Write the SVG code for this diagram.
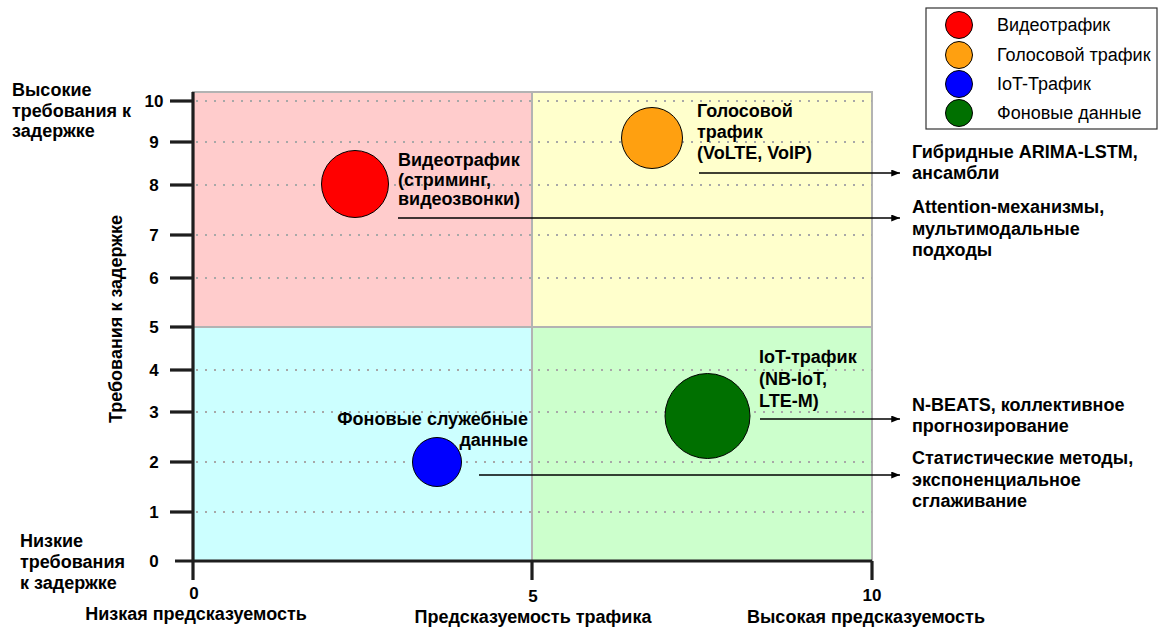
<svg xmlns="http://www.w3.org/2000/svg" width="1159" height="629" viewBox="0 0 1159 629">
<defs>
<style>
text{font-family:"Liberation Sans",Arial,sans-serif;fill:#000}
.b{font-weight:bold;font-size:18px}
.r{font-size:18px}
.tk{font-weight:bold;font-size:17px;text-anchor:middle}
.tt{font-weight:bold;font-size:18px;text-anchor:middle}
.grid{stroke:#A8A8A8;stroke-width:2;stroke-dasharray:2 7;fill:none}
.quad{stroke:#B3B3B3;stroke-width:2}
.axis{stroke:#1E1E1E;stroke-width:3.2;fill:none}
.conn{stroke:#000;stroke-width:1.5;fill:none;marker-end:url(#arr)}
.bub{stroke:#000;stroke-width:1}
</style>
<marker id="arr" viewBox="0 0 10 8" refX="10" refY="4" markerWidth="9" markerHeight="7" markerUnits="userSpaceOnUse" orient="auto">
<path d="M0,0 L10,4 L0,8 Z" fill="#000"/>
</marker>
</defs>
<rect width="1159" height="629" fill="#fff"/>

<g id="quadrants">
<rect class="quad" x="193" y="92" width="339" height="235" fill="#FFCCCC"/>
<rect class="quad" x="532" y="92" width="340" height="235" fill="#FFFFCC"/>
<rect class="quad" x="193" y="327" width="339" height="234" fill="#CCFFFF"/>
<rect class="quad" x="532" y="327" width="340" height="234" fill="#CCFFCC"/>
</g>

<g id="grid">
<line class="grid" x1="196" y1="101" x2="872" y2="101"/>
<line class="grid" x1="196" y1="142" x2="872" y2="142"/>
<line class="grid" x1="196" y1="185" x2="872" y2="185"/>
<line class="grid" x1="196" y1="235" x2="872" y2="235"/>
<line class="grid" x1="196" y1="278" x2="872" y2="278"/>
<line class="grid" x1="196" y1="370" x2="872" y2="370"/>
<line class="grid" x1="196" y1="412" x2="872" y2="412"/>
<line class="grid" x1="196" y1="462" x2="872" y2="462"/>
<line class="grid" x1="196" y1="512" x2="872" y2="512"/>
</g>

<g id="axes">
<line class="axis" x1="193" y1="92" x2="193" y2="580"/>
<line class="axis" x1="175" y1="561" x2="872" y2="561"/>
<line class="axis" x1="532" y1="561" x2="532" y2="580"/>
<line class="axis" x1="872" y1="561" x2="872" y2="580"/>
<line class="axis" x1="170" y1="101" x2="193" y2="101"/>
<line class="axis" x1="170" y1="142" x2="193" y2="142"/>
<line class="axis" x1="170" y1="185" x2="193" y2="185"/>
<line class="axis" x1="170" y1="235" x2="193" y2="235"/>
<line class="axis" x1="170" y1="278" x2="193" y2="278"/>
<line class="axis" x1="170" y1="327" x2="193" y2="327"/>
<line class="axis" x1="170" y1="370" x2="193" y2="370"/>
<line class="axis" x1="170" y1="412" x2="193" y2="412"/>
<line class="axis" x1="170" y1="462" x2="193" y2="462"/>
<line class="axis" x1="170" y1="512" x2="193" y2="512"/>
<text class="tk" x="154" y="107">10</text>
<text class="tk" x="154" y="148">9</text>
<text class="tk" x="154" y="191">8</text>
<text class="tk" x="154" y="241">7</text>
<text class="tk" x="154" y="284">6</text>
<text class="tk" x="154" y="333">5</text>
<text class="tk" x="154" y="376">4</text>
<text class="tk" x="154" y="418">3</text>
<text class="tk" x="154" y="468">2</text>
<text class="tk" x="154" y="518">1</text>
<text class="tk" x="154" y="567">0</text>
<text class="tk" x="194" y="599">0</text>
<text class="tk" x="533" y="602">5</text>
<text class="tk" x="872" y="601">10</text>
<text class="tt" x="196" y="620">Низкая предсказуемость</text>
<text class="tt" x="533" y="623">Предсказуемость трафика</text>
<text class="tt" x="866" y="623">Высокая предсказуемость</text>
<text class="tt" transform="translate(122,319) rotate(-90)">Требования к задержке</text>
<text class="b" x="12" y="96">Высокие</text>
<text class="b" x="12" y="117">требования к</text>
<text class="b" x="12" y="137">задержке</text>
<text class="b" x="20" y="547">Низкие</text>
<text class="b" x="20" y="568">требования</text>
<text class="b" x="20" y="589">к задержке</text>
</g>

<g id="connectors">
<line class="conn" x1="699" y1="173" x2="900" y2="173"/>
<line class="conn" x1="398" y1="218" x2="900" y2="218"/>
<line class="conn" x1="760" y1="419" x2="900" y2="419"/>
<line class="conn" x1="479" y1="475" x2="900" y2="475"/>
</g>

<g id="video">
<circle class="bub" cx="355" cy="184" r="33.5" fill="#FF0000"/>
<text class="b" x="398" y="166">Видеотрафик</text>
<text class="b" x="398" y="186">(стриминг,</text>
<text class="b" x="398" y="205">видеозвонки)</text>
</g>
<g id="voice">
<circle class="bub" cx="652" cy="138" r="30.5" fill="#FFA010"/>
<text class="b" x="697" y="117">Голосовой</text>
<text class="b" x="697" y="138">трафик</text>
<text class="b" x="697" y="159">(VoLTE, VoIP)</text>
</g>
<g id="iot">
<circle class="bub" cx="707.5" cy="416" r="42.5" fill="#007000"/>
<text class="b" x="759" y="363">IoT-трафик</text>
<text class="b" x="759" y="385">(NB-IoT,</text>
<text class="b" x="759" y="407">LTE-M)</text>
</g>
<g id="background">
<circle class="bub" cx="437" cy="462" r="24.5" fill="#0000FF"/>
<text class="b" x="528" y="425" text-anchor="end">Фоновые служебные</text>
<text class="b" x="528" y="446" text-anchor="end">данные</text>
</g>

<g id="method-hybrid">
<text class="b" x="912" y="158">Гибридные ARIMA-LSTM,</text>
<text class="b" x="912" y="179">ансамбли</text>
</g>
<g id="method-attention">
<text class="b" x="912" y="213">Attention-механизмы,</text>
<text class="b" x="912" y="235">мультимодальные</text>
<text class="b" x="912" y="256">подходы</text>
</g>
<g id="method-nbeats">
<text class="b" x="912" y="411">N-BEATS, коллективное</text>
<text class="b" x="912" y="432">прогнозирование</text>
</g>
<g id="method-stat">
<text class="b" x="912" y="464">Статистические методы,</text>
<text class="b" x="912" y="486">экспоненциальное</text>
<text class="b" x="912" y="507">сглаживание</text>
</g>

<g id="legend">
<rect x="926" y="8" width="231" height="121" fill="#fff" stroke="#333" stroke-width="1.2"/>
<circle class="bub" cx="959" cy="25" r="13.5" fill="#FF0000"/>
<circle class="bub" cx="959" cy="55" r="13.5" fill="#FFA010"/>
<circle class="bub" cx="959" cy="84" r="13.5" fill="#0000FF"/>
<circle class="bub" cx="959" cy="113" r="13.5" fill="#007000"/>
<text class="r" x="997" y="31">Видеотрафик</text>
<text class="r" x="997" y="61">Голосовой трафик</text>
<text class="r" x="997" y="90">IoT-Трафик</text>
<text class="r" x="997" y="119">Фоновые данные</text>
</g>
</svg>
